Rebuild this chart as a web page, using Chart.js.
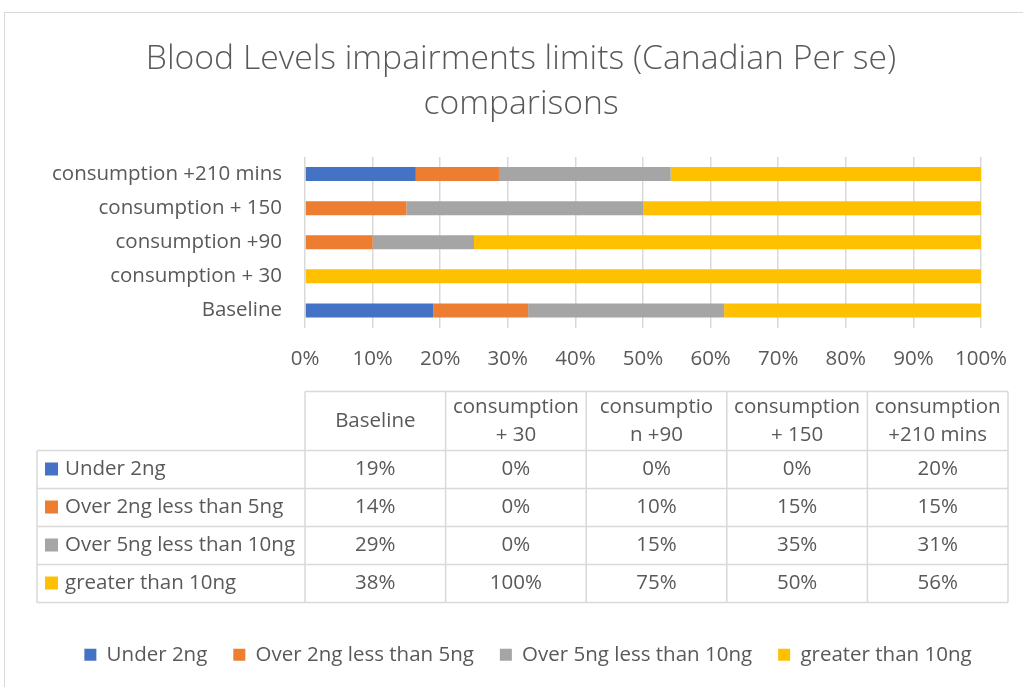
<!DOCTYPE html>
<html>
<head>
<meta charset="utf-8">
<script src="https://cdn.jsdelivr.net/npm/chart.js@4.4.1/dist/chart.umd.min.js"></script>
<style>
  html, body { margin: 0; padding: 0; background: #fff; overflow: hidden; }
  #wrap { position: relative; width: 1023px; height: 687px; }
  #frame { position: absolute; left: 4px; top: 12px; width: 1100px; height: 1000px; border: 1px solid #d9d9d9; box-sizing: border-box; }
  canvas { position: absolute; left: 0; top: 0; }
</style>
</head>
<body>
<div id="wrap">
  <div id="frame"></div>
  <canvas id="bloodChart" width="1023" height="687"></canvas>
</div>
<script>
// categories (bottom to top on the chart, left to right in the table)
const categories = ['Baseline', 'consumption + 30', 'consumption +90', 'consumption + 150', 'consumption +210 mins'];
// header text of the data table, as Excel wrapped it
const tableHeaders = [
  ['Baseline'],
  ['consumption', '+ 30'],
  ['consumptio', 'n +90'],
  ['consumption', '+ 150'],
  ['consumption', '+210 mins']
];

const seriesNames = ['Under 2ng', 'Over 2ng less than 5ng', 'Over 5ng less than 10ng', 'greater than 10ng'];
const seriesColors = ['#4472C4', '#ED7D31', '#A5A5A5', '#FFC000'];

// values in % as shown in the table
const under2ng = [19, 0, 0, 0, 20];
const over2less5 = [14, 0, 10, 15, 15];
const over5less10 = [29, 0, 15, 35, 31];
const greater10 = [38, 100, 75, 50, 56];
const seriesValues = [under2ng, over2less5, over5less10, greater10];

const xTicks = [0, 10, 20, 30, 40, 50, 60, 70, 80, 90, 100];

const FONT = '"Open Sans", "Noto Sans", sans-serif';
const FONT_SIZE = 20.5;
const TEXT_COLOR = '#595959';
const LINE_COLOR = '#d9d9d9';

// 100% stacked: each bar is normalised to its total
const totals = categories.map((c, i) => seriesValues.reduce((sum, arr) => sum + arr[i], 0));

// Excel puts the title and legend a bit right of centre
const blockShift = {
  id: 'blockShift',
  afterLayout(chart) {
    chart.legend.left += 19;
    chart.legend.right += 19;
    chart.titleBlock.left += 12;
    chart.titleBlock.right += 12;
  }
};

const dataTablePlugin = {
  id: 'dataTable',
  afterDraw(chart) {
    const ctx = chart.ctx;
    const area = chart.chartArea;
    const top = area.bottom + 64;
    const left = 37;
    const right = 1008;
    const headH = 59;
    const rowH = 38;
    const bottom = top + headH + rowH * seriesNames.length;
    const colW = (right - area.left) / categories.length;

    ctx.save();
    ctx.strokeStyle = LINE_COLOR;
    ctx.lineWidth = 1.5;
    ctx.beginPath();
    ctx.moveTo(area.left, top);
    ctx.lineTo(right, top);
    for (let r = 0; r <= seriesNames.length; r++) {
      const y = top + headH + r * rowH;
      ctx.moveTo(left, y);
      ctx.lineTo(right, y);
    }
    ctx.moveTo(left, top + headH);
    ctx.lineTo(left, bottom);
    for (let c = 0; c <= categories.length; c++) {
      const x = area.left + c * colW;
      ctx.moveTo(x, top);
      ctx.lineTo(x, bottom);
    }
    ctx.stroke();

    ctx.fillStyle = TEXT_COLOR;
    ctx.font = FONT_SIZE + 'px ' + FONT;
    ctx.textBaseline = 'middle';
    ctx.textAlign = 'center';
    tableHeaders.forEach((lines, c) => {
      const cx = area.left + (c + 0.5) * colW;
      const cy = top + headH / 2;
      if (lines.length === 1) {
        ctx.fillText(lines[0], cx, cy);
      } else {
        ctx.fillText(lines[0], cx, cy - 14);
        ctx.fillText(lines[1], cx, cy + 14);
      }
    });

    seriesNames.forEach((name, r) => {
      const cy = top + headH + (r + 0.5) * rowH;
      ctx.fillStyle = seriesColors[r];
      ctx.fillRect(45, cy - 7, 13, 13);
      ctx.fillStyle = TEXT_COLOR;
      ctx.textAlign = 'left';
      ctx.fillText(name, 65, cy);
      ctx.textAlign = 'center';
      seriesValues[r].forEach((v, c) => {
        ctx.fillText(v + '%', area.left + (c + 0.5) * colW, cy);
      });
    });
    ctx.restore();
  }
};

const chartCtx = document.getElementById('bloodChart').getContext('2d');
const bloodChart = new Chart(chartCtx, {
  type: 'bar',
  data: {
    labels: categories,
    datasets: seriesNames.map((name, s) => ({
      label: name,
      data: seriesValues[s].map((v, i) => v / totals[i] * 100),
      backgroundColor: seriesColors[s],
      borderWidth: 0,
      barPercentage: 0.82,
      categoryPercentage: 0.5
    }))
  },
  options: {
    indexAxis: 'y',
    responsive: false,
    devicePixelRatio: 1,
    animation: false,
    layout: { padding: { left: 37, right: 42, top: 0, bottom: 12 } },
    scales: {
      x: {
        stacked: true,
        min: 0,
        max: 100,
        afterBuildTicks: (scale) => { scale.ticks = xTicks.map(v => ({ value: v })); },
        ticks: {
          callback: (v) => v + '%',
          padding: 19,
          maxRotation: 0,
          autoSkip: false,
          color: TEXT_COLOR,
          font: { family: FONT, size: FONT_SIZE }
        },
        grid: { color: LINE_COLOR, lineWidth: 1.5, drawTicks: false },
        border: { display: false },
        afterFit: (scale) => {
          scale.height = 291;
          scale.paddingLeft = 0;
          scale.paddingRight = 0;
        }
      },
      y: {
        stacked: true,
        reverse: true,
        ticks: {
          padding: 23,
          autoSkip: false,
          color: TEXT_COLOR,
          font: { family: FONT, size: FONT_SIZE }
        },
        grid: { display: false, drawTicks: false },
        border: { display: false },
        afterFit: (scale) => { scale.width = 268; }
      }
    },
    plugins: {
      title: {
        display: true,
        text: ['Blood Levels impairments limits (Canadian Per se)', 'comparisons'],
        color: TEXT_COLOR,
        font: { family: FONT, size: 33.7, weight: 300, lineHeight: '45px' },
        padding: { top: 36.5, bottom: 30.5 }
      },
      legend: {
        position: 'bottom',
        labels: {
          boxWidth: 12,
          boxHeight: 12,
          padding: 26,
          color: TEXT_COLOR,
          font: { family: FONT, size: FONT_SIZE }
        }
      },
      tooltip: { enabled: false }
    }
  },
  plugins: [blockShift, dataTablePlugin]
});
</script>
</body>
</html>
